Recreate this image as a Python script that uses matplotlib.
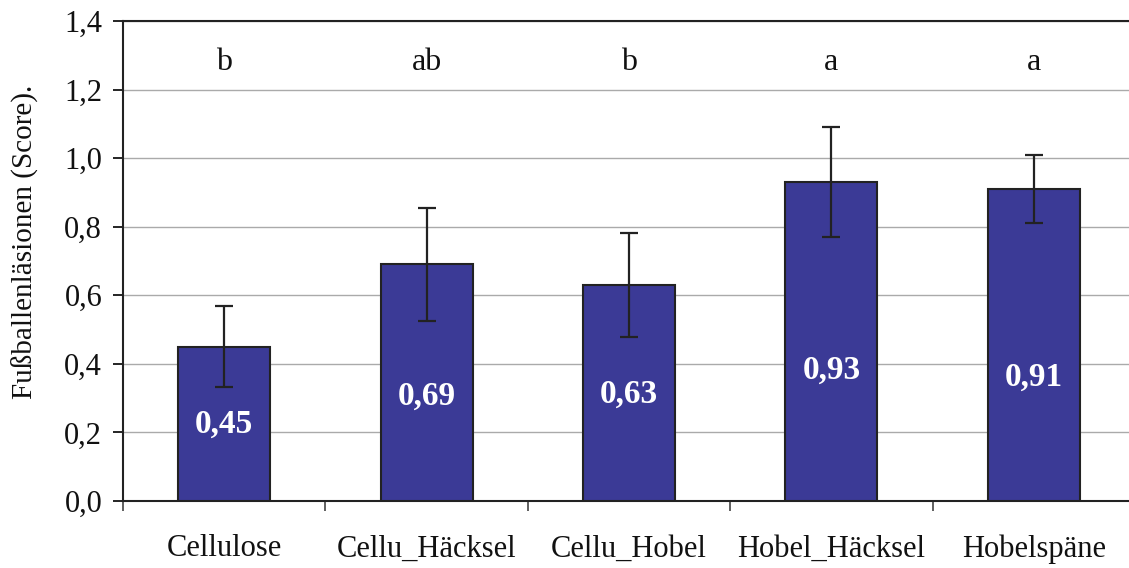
import matplotlib.pyplot as plt

# data
categories = ["Cellulose", "Cellu_Häcksel", "Cellu_Hobel", "Hobel_Häcksel", "Hobelspäne"]
scores = [0.45, 0.69, 0.63, 0.93, 0.91]
errors = [0.118, 0.165, 0.153, 0.16, 0.10]
letters = ["b", "ab", "b", "a", "a"]
value_labels = ["0,45", "0,69", "0,63", "0,93", "0,91"]
label_y = [0.225, 0.305, 0.31, 0.38, 0.36]
y_ticks = [0.0, 0.2, 0.4, 0.6, 0.8, 1.0, 1.2, 1.4]

plt.rcParams['font.family'] = ['Liberation Serif', 'DejaVu Serif']

fig = plt.figure(figsize=(11.29, 5.68), dpi=100)
ax = fig.add_axes([123 / 1129, 67 / 568, 1012 / 1129, 480 / 568])

x = list(range(len(categories)))
ax.bar(x, scores, width=0.455, color="#3b3a96", edgecolor="#222222", linewidth=1.5, zorder=3)
ax.errorbar(x, scores, yerr=errors, fmt="none", ecolor="#222222", elinewidth=1.6,
            capsize=6.5, capthick=1.6, zorder=4)

for i in x:
    ax.text(i, 1.28, letters[i], ha="center", va="center", fontsize=23, color="#111111")
    ax.text(i, label_y[i], value_labels[i], ha="center", va="center", fontsize=24,
            fontweight="bold", color="white", zorder=5)

ax.set_xlim(-0.5, len(categories) - 0.5)
ax.set_ylim(0, 1.4)
ax.set_yticks(y_ticks)
ax.set_yticklabels([f"{v:.1f}".replace(".", ",") for v in y_ticks], fontsize=22, color="#111111")
ax.tick_params(axis="y", direction="out", length=7, width=1.2, pad=8)

# ticks at category boundaries, labels at category centres
ax.set_xticks([i - 0.5 for i in range(len(categories) + 1)])
ax.set_xticklabels([])
ax.tick_params(axis="x", which="major", direction="out", length=7, width=1.2, color="#444444")
ax.set_xticks(x, minor=True)
ax.set_xticklabels(categories, minor=True, fontsize=22, color="#111111")
ax.tick_params(axis="x", which="minor", length=0, pad=24)

ax.yaxis.grid(True, color="#aaaaaa", linewidth=1.0, zorder=0)
ax.set_axisbelow(True)
for s in ax.spines.values():
    s.set_color("#222222")
    s.set_linewidth(1.5)

ax.set_ylabel("Fußballenläsionen (Score).", fontsize=21, color="#111111")
ax.yaxis.set_label_coords(-0.083, 0.54)

fig.savefig("out.png", dpi=100)
